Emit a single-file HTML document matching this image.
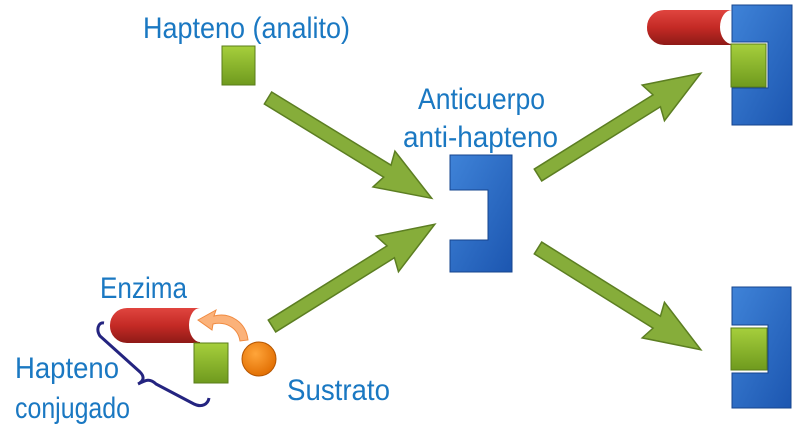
<!DOCTYPE html>
<html><head><meta charset="utf-8"><style>html,body{margin:0;padding:0;background:#fff;}svg{display:block}</style></head>
<body>
<svg width="800" height="436" viewBox="0 0 800 436" xmlns="http://www.w3.org/2000/svg">
<defs>
<linearGradient id="blue" x1="0" y1="0" x2="1" y2="1"><stop offset="0" stop-color="#3f83d8"/><stop offset="1" stop-color="#1c56b0"/></linearGradient>
<linearGradient id="green" x1="0" y1="0" x2="0" y2="1"><stop offset="0" stop-color="#a6cf3c"/><stop offset="1" stop-color="#6f9a1e"/></linearGradient>
<linearGradient id="red" x1="0" y1="0" x2="0" y2="1"><stop offset="0" stop-color="#e0453f"/><stop offset="0.5" stop-color="#c42a25"/><stop offset="1" stop-color="#8e1a17"/></linearGradient>
<radialGradient id="orange" cx="0.4" cy="0.35" r="0.7"><stop offset="0" stop-color="#ffa53a"/><stop offset="1" stop-color="#e06c00"/></radialGradient>
<g id="arrow"><polygon points="0,-7 140,-7 136,-21 192,0 136,21 140,7 0,7" fill="#86ad3a" stroke="#5c7e22" stroke-width="1.5"/></g>
</defs>
<g font-family="'Liberation Sans',sans-serif" font-size="30" fill="#1a78c2">
<text x="143" y="38" textLength="207" lengthAdjust="spacingAndGlyphs">Hapteno (analito)</text>
<text x="418" y="109" textLength="127" lengthAdjust="spacingAndGlyphs">Anticuerpo</text>
<text x="403" y="147" textLength="155" lengthAdjust="spacingAndGlyphs">anti-hapteno</text>
<text x="100" y="298" textLength="87" lengthAdjust="spacingAndGlyphs">Enzima</text>
<text x="15" y="378" textLength="104" lengthAdjust="spacingAndGlyphs">Hapteno</text>
<text x="15" y="418" textLength="115" lengthAdjust="spacingAndGlyphs">conjugado</text>
<text x="287" y="400" textLength="103" lengthAdjust="spacingAndGlyphs">Sustrato</text>
</g>
<use href="#arrow" transform="translate(268,98) rotate(31.5)"/>
<use href="#arrow" transform="translate(272,326) rotate(-32)"/>
<use href="#arrow" transform="translate(538,175) rotate(-32)"/>
<use href="#arrow" transform="translate(538,248) rotate(32)"/>
<rect x="222" y="46" width="33" height="39" fill="url(#green)" stroke="#5a7d1a"/>
<path d="M450,155 H512 V272 H450 V240 H488 V190 H450 Z" fill="url(#blue)" stroke="#16448e"/>
<path d="M647,27 A17,17 0 0 1 664,10 H732 V45 H664 A17,17 0 0 1 647,27 Z" fill="url(#red)"/>
<ellipse cx="732" cy="27" rx="12" ry="17" fill="#fff"/>
<path d="M732,5 H792 V125 H732 V88 H768 V42 H732 Z" fill="url(#blue)" stroke="#16448e"/>
<rect x="731" y="44" width="35" height="43" fill="url(#green)" stroke="#5a7d1a"/>
<path d="M732,287 H791 V408 H732 V373 H768 V325 H732 Z" fill="url(#blue)" stroke="#16448e"/>
<rect x="731" y="328" width="36" height="42" fill="url(#green)" stroke="#5a7d1a"/>
<path d="M110,325 A17,17 0 0 1 127,308 H200 V343 H127 A17,17 0 0 1 110,325 Z" fill="url(#red)"/>
<ellipse cx="200" cy="325" rx="11" ry="17" fill="#fff"/>
<rect x="194" y="343" width="34" height="40" fill="url(#green)" stroke="#5a7d1a"/>
<circle cx="259" cy="359" r="17" fill="url(#orange)" stroke="#b55500"/>
<path d="M248,340 C246,322 230,312 214,316 L216,310 L198,320 L212,330 L213,324 C226,321 238,328 240,341 Z" fill="#fbb27a" stroke="#f08a40"/>
<path d="M104,323 C98,322 96,330 100,336 L140,372 C146,378 142,382 138,384 C146,380 150,378 156,384 L194,404 C202,408 208,404 209,398" fill="none" stroke="#242480" stroke-width="3"/>
</svg>
</body></html>
